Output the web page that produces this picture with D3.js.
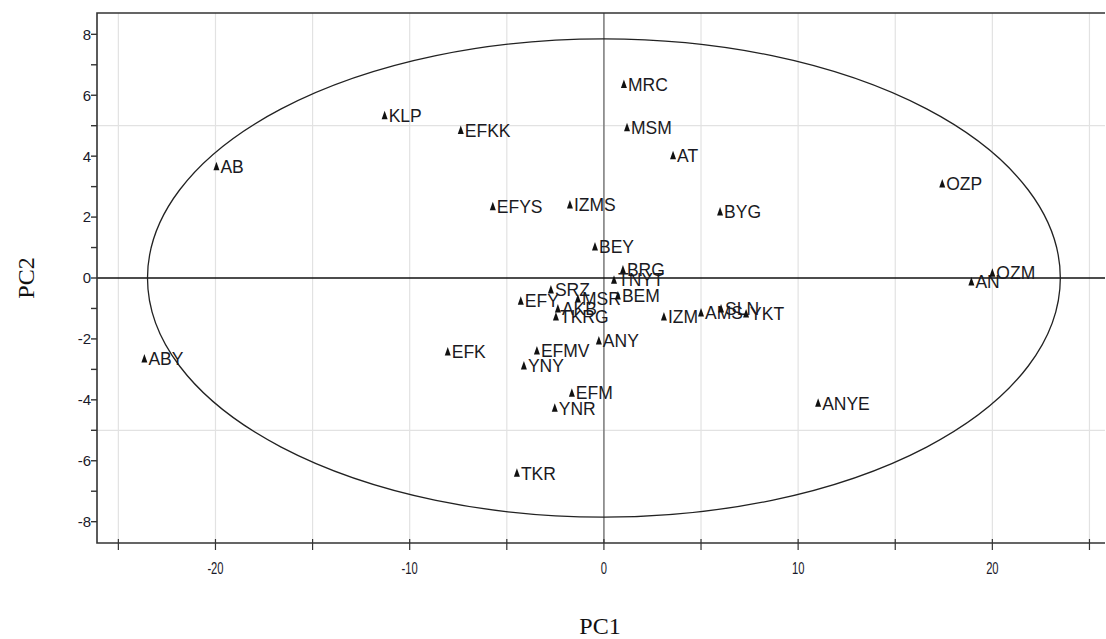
<!DOCTYPE html>
<html>
<head>
<meta charset="utf-8">
<script src="https://cdn.jsdelivr.net/npm/d3@7"></script>
<style>
  body { margin: 0; background: #fff; }
  svg { display: block; }
</style>
</head>
<body>
<svg id="pca" width="1106" height="639"></svg>
<script>
// sample names and their scores on the first two components
var labels = ['MRC','MSM','AT','KLP','EFKK','AB','OZP','EFYS','IZMS','BYG','BEY','BRG','TNYT',
              'SRZ','EFY','AKB','TKRG','MSR','BEM','IZM','AMS','SLN','YKT','AN','OZM',
              'ABY','EFK','EFMV','YNY','ANY','EFM','YNR','ANYE','TKR'];
var pc1 = [1.03, 1.19, 3.56, -11.29, -7.37, -19.95, 17.42, -5.72, -1.75, 5.98, -0.46, 0.98, 0.52,
           -2.73, -4.28, -2.37, -2.47, -1.34, 0.72, 3.09, 5.0, 6.03, 7.32, 18.92, 20.0,
           -23.66, -8.04, -3.45, -4.12, -0.26, -1.65, -2.53, 11.03, -4.48];
var pc2 = [6.35, 4.93, 4.01, 5.33, 4.84, 3.65, 3.09, 2.34, 2.40, 2.17, 1.02, 0.26, -0.07,
           -0.39, -0.76, -1.02, -1.28, -0.69, -0.59, -1.28, -1.15, -1.02, -1.18, -0.13, 0.16,
           -2.66, -2.43, -2.40, -2.89, -2.07, -3.78, -4.28, -4.11, -6.41];

// axis ticks
var xMajor = [-20, -10, 0, 10, 20];
var xMinor = [-25, -15, -5, 5, 15, 25];
var yMajor = [-8, -6, -4, -2, 0, 2, 4, 6, 8];
var yMinor = [-7, -5, -3, -1, 1, 3, 5, 7];
var xGrid = [-25, -20, -15, -10, -5, 5, 10, 15, 20, 25];
var yGrid = [-5, 5];

// confidence ellipse half axes
var ellipseRx = 23.5, ellipseRy = 7.85;

var svg = d3.select('#pca');
var x = d3.scaleLinear().domain([-26.1, 25.8]).range([97, 1105]);
var y = d3.scaleLinear().domain([-8.7, 8.7]).range([543, 13]);

// grid
svg.selectAll('.gx').data(xGrid).enter().append('line')
  .attr('x1', function(d) { return x(d); }).attr('x2', function(d) { return x(d); })
  .attr('y1', y(8.7)).attr('y2', y(-8.7))
  .attr('stroke', '#e2e2e2').attr('stroke-width', 1.2);
svg.selectAll('.gy').data(yGrid).enter().append('line')
  .attr('x1', x(-26.1)).attr('x2', x(25.8))
  .attr('y1', function(d) { return y(d); }).attr('y2', function(d) { return y(d); })
  .attr('stroke', '#e2e2e2').attr('stroke-width', 1.2);

// zero lines
svg.append('line')
  .attr('x1', x(0)).attr('x2', x(0)).attr('y1', y(8.7)).attr('y2', y(-8.7))
  .attr('stroke', '#808080').attr('stroke-width', 1.6);
svg.append('line')
  .attr('x1', x(-26.1)).attr('x2', x(25.8)).attr('y1', y(0)).attr('y2', y(0))
  .attr('stroke', '#111').attr('stroke-width', 1.6);

// ellipse
svg.append('ellipse')
  .attr('cx', x(0)).attr('cy', y(0))
  .attr('rx', x(ellipseRx) - x(0)).attr('ry', y(0) - y(ellipseRy))
  .attr('fill', 'none').attr('stroke', '#222').attr('stroke-width', 1.3);

// frame: left and top, bottom axis
svg.append('path')
  .attr('d', 'M' + x(25.8) + ',' + y(8.7) + 'H' + x(-26.1) + 'V' + y(-8.7) + 'H' + x(25.8))
  .attr('fill', 'none').attr('stroke', '#333').attr('stroke-width', 1.6);

// y ticks
svg.selectAll('.ty').data(yMajor.concat(yMinor)).enter().append('line')
  .attr('x1', x(-26.1) - 6).attr('x2', x(-26.1))
  .attr('y1', function(d) { return y(d); }).attr('y2', function(d) { return y(d); })
  .attr('stroke', '#333').attr('stroke-width', 1.4);
svg.selectAll('.ly').data(yMajor).enter().append('text')
  .attr('x', x(-26.1) - 6).attr('y', function(d) { return y(d); })
  .attr('dy', '0.36em').attr('text-anchor', 'end')
  .style('font-family', 'Arial, "Liberation Sans", sans-serif').style('font-size', '15px')
  .attr('fill', '#1a1a2a')
  .text(function(d) { return d; });

// x ticks
svg.selectAll('.tx').data(xMajor.concat(xMinor)).enter().append('line')
  .attr('x1', function(d) { return x(d); }).attr('x2', function(d) { return x(d); })
  .attr('y1', y(-8.7) - 4).attr('y2', y(-8.7) + 7)
  .attr('stroke', '#333').attr('stroke-width', 1.2);
svg.selectAll('.lx').data(xMajor).enter().append('text')
  .attr('transform', function(d) { return 'translate(' + x(d) + ',574) scale(0.7,1)'; })
  .attr('text-anchor', 'middle')
  .style('font-family', 'Arial, "Liberation Sans", sans-serif').style('font-size', '16px')
  .attr('fill', '#1a1a2a')
  .text(function(d) { return d; });

// axis titles
svg.append('text')
  .attr('x', 600).attr('y', 634).attr('text-anchor', 'middle')
  .style('font-family', '"Liberation Serif", "Times New Roman", serif').style('font-size', '24px')
  .attr('fill', '#111').text('PC1');
svg.append('text')
  .attr('transform', 'translate(34,' + y(0) + ') rotate(-90)').attr('text-anchor', 'middle')
  .style('font-family', '"Liberation Serif", "Times New Roman", serif').style('font-size', '24px')
  .attr('fill', '#111').text('PC2');

// points
var pts = labels.map(function(l, i) { return {label: l, pc1: pc1[i], pc2: pc2[i]}; });
var g = svg.selectAll('.pt').data(pts).enter().append('g')
  .attr('transform', function(d) { return 'translate(' + x(d.pc1) + ',' + y(d.pc2) + ')'; });
g.append('path')
  .attr('d', 'M0,-5L3,3.5L-3,3.5Z')
  .attr('fill', '#111');
g.append('text')
  .attr('x', 4).attr('dy', '0.36em')
  .style('font-family', 'Arial, "Liberation Sans", sans-serif').style('font-size', '17.5px')
  .attr('fill', '#1a1a22')
  .text(function(d) { return d.label; });
</script>
</body>
</html>
